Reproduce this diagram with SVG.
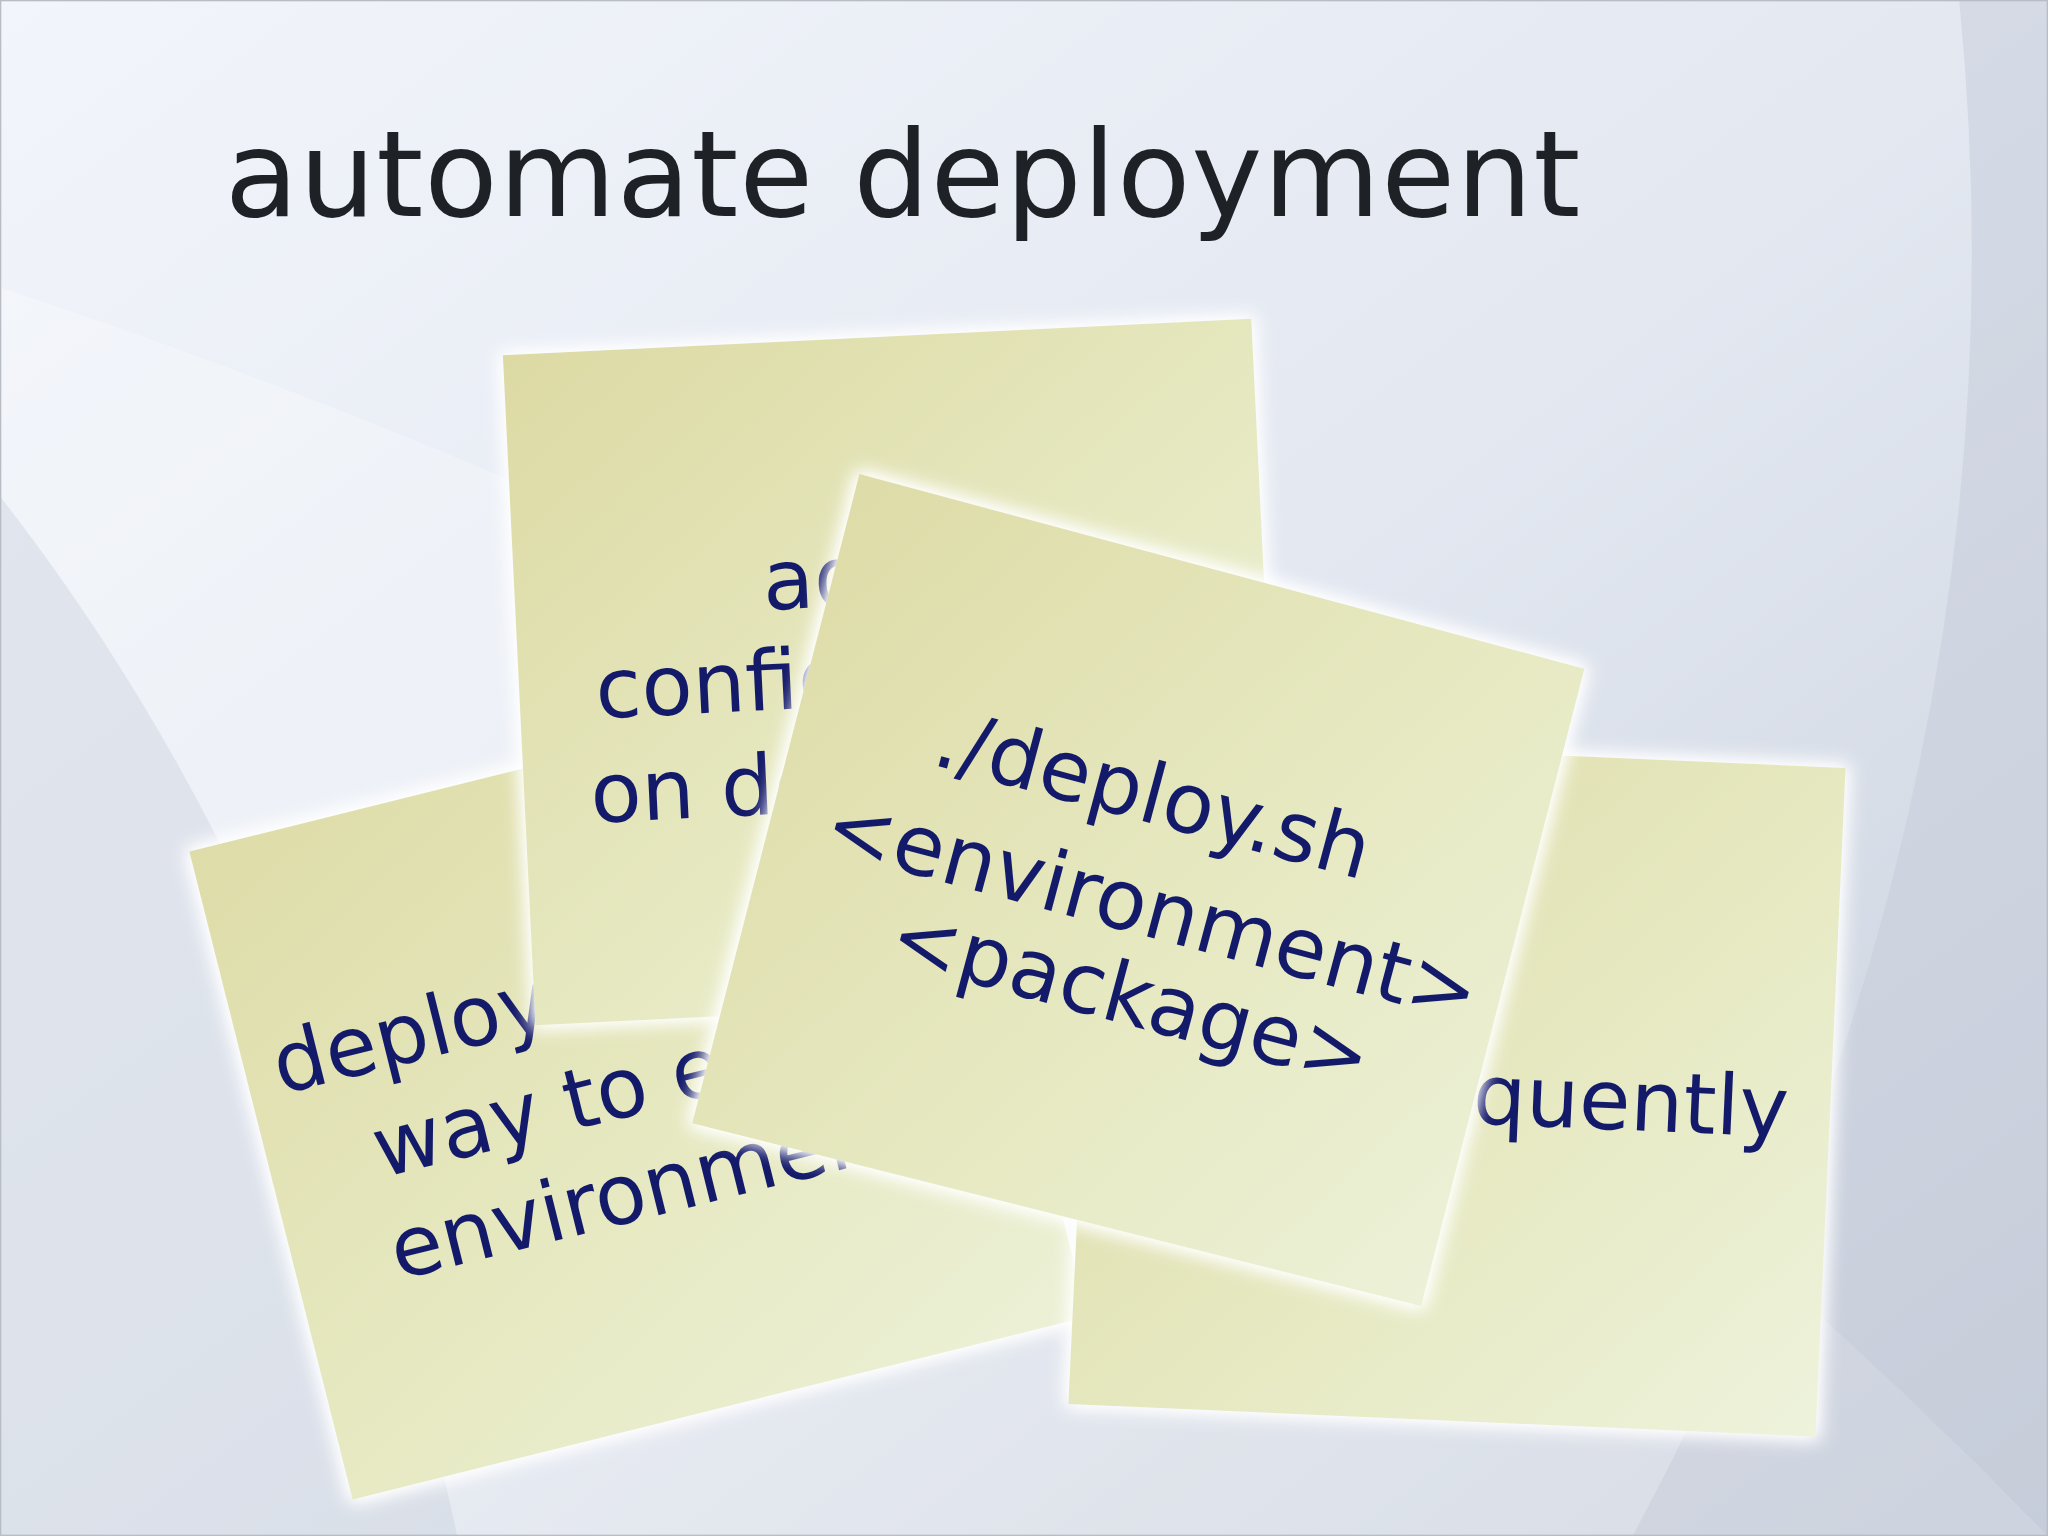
<svg xmlns="http://www.w3.org/2000/svg" width="2048" height="1536" viewBox="0 0 2048 1536">
<defs>
<linearGradient id="bg" x1="0" y1="0" x2="1" y2="1"><stop offset="0" stop-color="#f2f5fb"/><stop offset="0.5" stop-color="#e3e8f1"/><stop offset="1" stop-color="#c9d0dc"/></linearGradient>
<linearGradient id="note" x1="0" y1="0" x2="1" y2="1"><stop offset="0" stop-color="#dcd9a2"/><stop offset="0.6" stop-color="#e7eac4"/><stop offset="1" stop-color="#eef3dd"/></linearGradient>
<filter id="glow" x="-20%" y="-20%" width="140%" height="140%"><feMorphology in="SourceAlpha" operator="dilate" radius="3" result="d"/><feGaussianBlur in="d" stdDeviation="7"/><feComponentTransfer><feFuncA type="linear" slope="1.2"/></feComponentTransfer><feColorMatrix type="matrix" values="0 0 0 0 1  0 0 0 0 1  0 0 0 0 1  0 0 0 1 0"/><feMerge><feMergeNode/><feMergeNode in="SourceGraphic"/></feMerge></filter>
<style>
.n{fill:url(#note);filter:url(#glow)}
.t{font-family:"DejaVu Sans",Verdana,sans-serif;font-size:64px;fill:#141a6a}
</style>
</defs>
<rect width="2048" height="1536" fill="url(#bg)"/>
<g transform="scale(1.3061)">
<path d="M0 220 Q600 420 1000 700 Q1300 900 1568 1176 L0 1176 Z" fill="#ffffff" opacity="0.25"/>
<path d="M0 380 Q250 700 350 1176 L0 1176Z" fill="#c8cfdb" opacity="0.4"/>
<path d="M1500 0 Q1560 600 1250 1176 L1568 1176 L1568 0Z" fill="#c3cad7" opacity="0.45"/>
<rect x="0.5" y="0.5" width="1567" height="1175" fill="none" stroke="#b8bcc4"/>
<text x="172" y="165" font-family="DejaVu Sans,Verdana,sans-serif" font-size="92" fill="#1e2126" textLength="1038">automate deployment</text>
<g id="note1">
<polygon class="n" points="145,652 707,512 833,1008 270,1148"/>
<text class="t" x="215" y="838" transform="rotate(-14 215 838)">deploy the same</text>
<text class="t" x="292" y="902" transform="rotate(-14 292 902)">way to every</text>
<text class="t" x="305" y="980" transform="rotate(-14 305 980)">environment</text>
</g>
<g id="note2">
<polygon class="n" points="385,272 958,244 983,757 410,785"/>
<text class="t" x="585" y="467" transform="rotate(-2.8 585 467)">add</text>
<text class="t" x="457" y="550" transform="rotate(-2.8 457 550)">configuration</text>
<text class="t" x="453" y="630" transform="rotate(-2.8 453 630)">on demand</text>
</g>
<g id="note3">
<polygon class="n" points="842,563 1413,588 1390,1100 818,1075"/>
<text class="t" x="1127" y="860" transform="rotate(2.5 1127 860)">quently</text>
</g>
<g id="note4">
<polygon class="n" points="658,363 1213,512 1088,1000 530,860"/>
<text class="t" x="712" y="585" transform="rotate(15 712 585)">./deploy.sh</text>
<text class="t" x="628" y="650" transform="rotate(15 628 650)">&lt;environment&gt;</text>
<text class="t" x="678" y="735" transform="rotate(15 678 735)">&lt;package&gt;</text>
</g>
</g>
</svg>
